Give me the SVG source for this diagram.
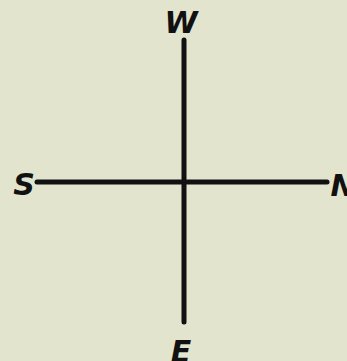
<svg xmlns="http://www.w3.org/2000/svg" width="347" height="361" viewBox="0 0 347 361">
<style>
.lbl{font-family:"DejaVu Sans","Liberation Sans",sans-serif;font-weight:bold;font-style:italic;font-size:30px;fill:#111;text-anchor:middle}
.ax{stroke:#111;stroke-width:5;stroke-linecap:round}
</style>
<rect width="347" height="361" fill="#e3e4cd"/>
<g id="connectors">
<line class="ax" x1="184" y1="40" x2="184" y2="322"/>
<line class="ax" x1="37" y1="182" x2="327" y2="182"/>
</g>
<g id="W"><text class="lbl" x="181" y="33">W</text></g>
<g id="S"><text class="lbl" x="24" y="195">S</text></g>
<g id="N"><text class="lbl" x="343" y="196">N</text></g>
<g id="E"><text class="lbl" x="181" y="362">E</text></g>
</svg>
